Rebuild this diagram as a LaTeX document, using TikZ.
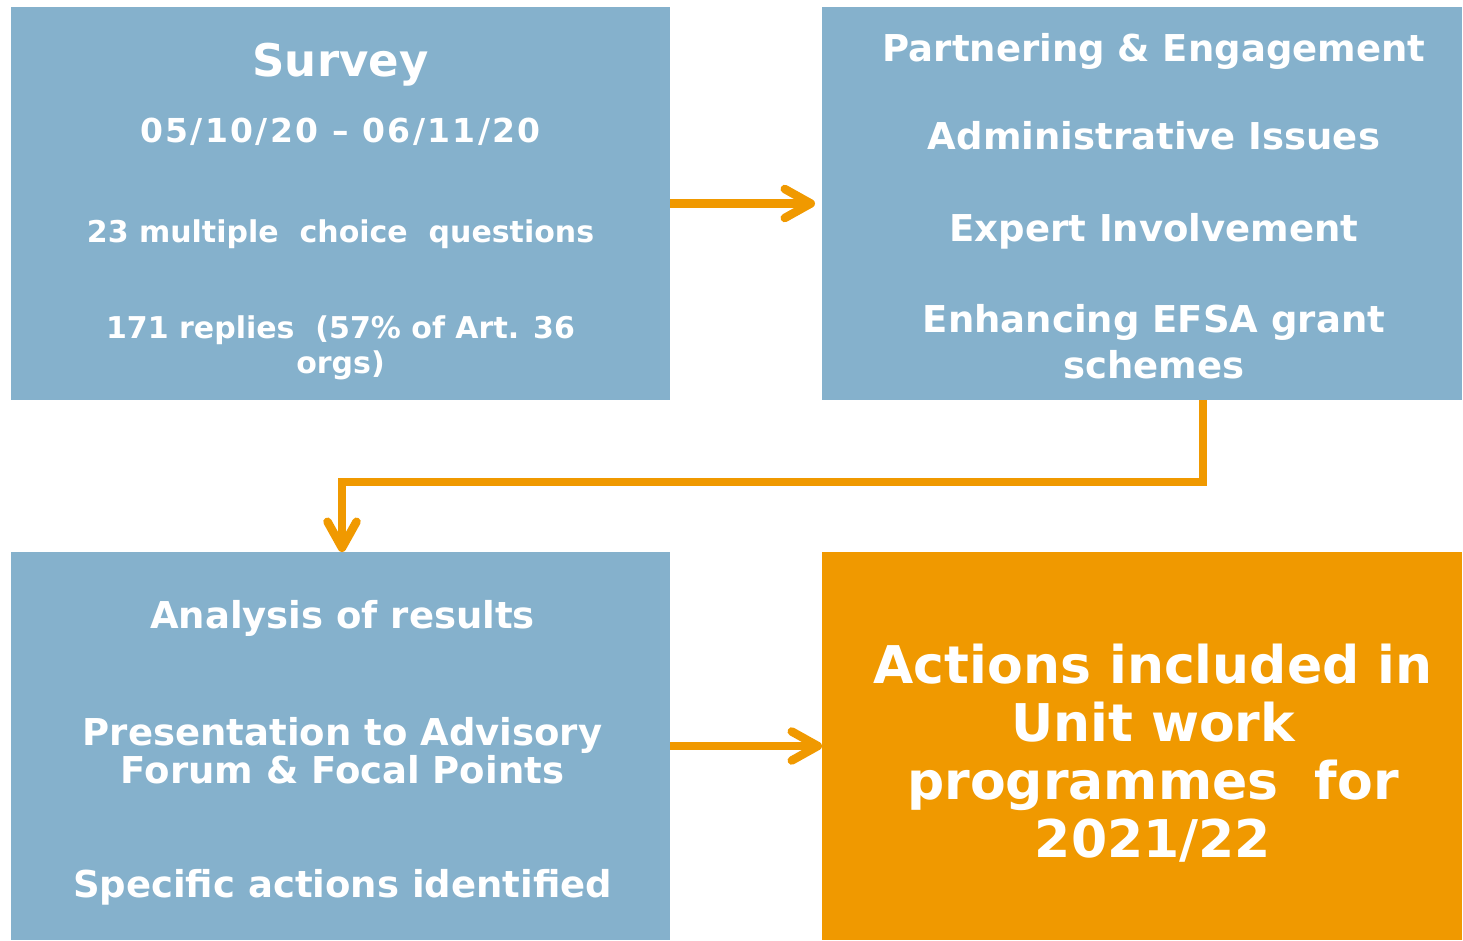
\documentclass[tikz,border=0pt]{standalone}
\usepackage{fontspec}
\setmainfont{DejaVu Sans}
\usetikzlibrary{arrows.meta,positioning}
\definecolor{panelblue}{HTML}{85B1CC}
\definecolor{efsaorange}{HTML}{F09900}
\newcommand{\fsz}[2]{\fontsize{#1}{#2}\selectfont}

\begin{document}
\begin{tikzpicture}[x=1pt,y=-1pt,
  panel/.style={fill=panelblue,draw=none,inner sep=0pt,outer sep=0pt},
  words/.style={text=white,font=\bfseries,anchor=base,align=center,inner sep=0pt},
  flow/.style={draw=efsaorange,line width=8.5pt,
    -{Straight Barb[length=26pt,width=29pt,round]}}]
  \useasboundingbox (0,0) rectangle (1463,941);
  % panels
  \node[panel,minimum width=659pt,minimum height=393pt] (survey) at (340.5,203.5) {};
  \node[panel,minimum width=640pt,minimum height=393pt] (themes) at (1142,203.5) {};
  \node[panel,minimum width=659pt,minimum height=388pt] (analysis) at (340.5,746) {};
  \node[panel,fill=efsaorange,minimum width=640pt,minimum height=388pt] (actions) at (1142,746) {};
  % survey texts (multi-line nodes sit on their last baseline)
  \node[words,font=\bfseries\fsz{45}{54}] (title) at (340.5,77) {Survey};
  \node[words,font=\bfseries\fsz{33}{36}\addfontfeatures{LetterSpace=7}] (dates) at (340.5,143) {05/10/20 – 06/11/20};
  \node[words,font=\bfseries\fsz{30}{36}] (questions) at (340.5,243) {23 multiple\ \ choice\ \ questions};
  \node[words,font=\bfseries\fsz{30}{35}] (replies) at (340.5,373) {171 replies\ \ (57\% of Art. 36\\orgs)};
  % themes texts
  \node[words,font=\bfseries\fsz{37}{46}] (partnering) at (1154,62) {Partnering \& Engagement};
  \node[words,font=\bfseries\fsz{37}{46}] (admin) at (1154,150) {Administrative Issues};
  \node[words,font=\bfseries\fsz{37}{46}] (expert) at (1154,242) {Expert Involvement};
  \node[words,font=\bfseries\fsz{37}{46}] (grants) at (1154,378) {Enhancing EFSA grant\\schemes};
  % analysis texts
  \node[words,font=\bfseries\fsz{37}{46}] (results) at (342.5,628) {Analysis of results};
  \node[words,font=\bfseries\fsz{37}{38}] (forum) at (342.5,783) {Presentation to Advisory\\Forum \& Focal Points};
  \node[words,font=\bfseries\fsz{37}{46}] (specific) at (342.5,897) {Specific actions identified};
  % outcome
  \node[words,font=\bfseries\fsz{52}{58}] (outcome) at (1153,857) {Actions included in\\Unit work\\programmes\ \ for\\2021/22};
  % connectors
  \coordinate (bendR) at (1203,482);
  \coordinate (bendL) at (342,482);
  \draw[flow,shorten >=7pt] (survey.east) -- (themes.west);
  \draw[flow] (bendR |- themes.south) -- (bendR) -- (bendL) -- (bendL |- analysis.north);
  \draw[flow] (analysis.east) -- (actions.west);
\end{tikzpicture}
\end{document}
